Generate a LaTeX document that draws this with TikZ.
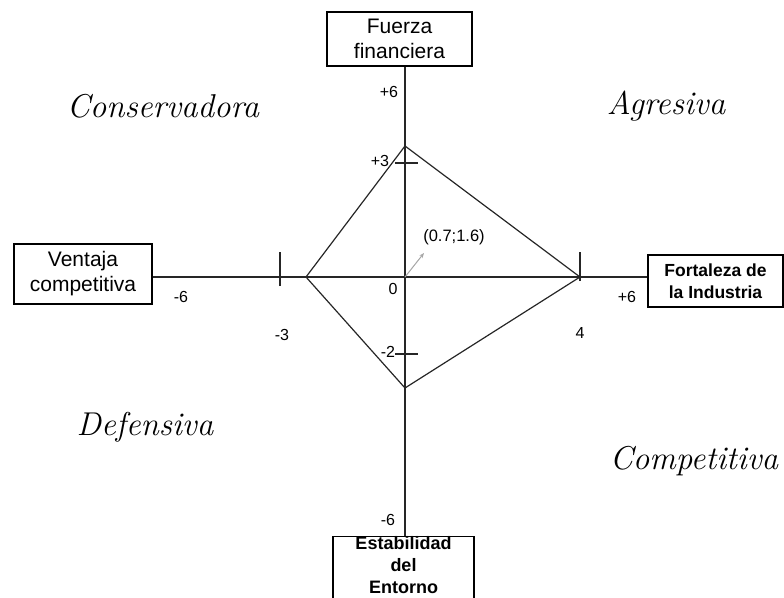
\documentclass[tikz,border=0pt]{standalone}
\usepackage{fontspec}
\newfontfamily\arial{Liberation Sans}
\usetikzlibrary{arrows.meta}
\begin{document}
\begin{tikzpicture}[x=1pt,y=-1pt,
  axis/.style={line width=1.2pt,black!85},
  labelbox/.style={draw,line width=1.1pt,align=center,inner sep=0pt,font=\arial\fontsize{21}{25}\selectfont},
  smallbox/.style={draw,line width=1.1pt,align=center,inner sep=0pt,font=\arial\bfseries\fontsize{17.5}{22}\selectfont},
  num/.style={font=\arial\fontsize{16}{18}\selectfont,inner sep=0pt},
  quad/.style={font=\itshape\fontsize{33}{38}\selectfont,inner sep=0pt}]
\useasboundingbox (0,0) rectangle (784,597);
% axis name boxes
\node[labelbox,minimum width=145pt,minimum height=54pt] (top) at (399.5,39) {Fuerza\\financiera};
\node[labelbox,minimum width=138pt,minimum height=60pt] (left) at (83,274) {Ventaja\\competitiva};
\node[smallbox,minimum width=135pt,minimum height=52pt] (right) at (715.5,281) {Fortaleza de\\la Industria};
\node[draw,line width=1.1pt,minimum width=141pt,minimum height=70pt,anchor=north,inner sep=0pt] (bottom) at (403.5,536) {};
\node[align=center,inner sep=0pt,font=\arial\bfseries\fontsize{18}{22}\selectfont] (bottomtext) at (403.5,565) {Estabilidad\\del\\Entorno};
% axes
\coordinate (o) at (405,277);
\draw[axis] (top.south -| o) -- (bottom.north -| o);
\draw[axis] (left.east |- o) -- (right.west |- o);
% ticks
\coordinate (t3) at (405,163);
\coordinate (tm2) at (405,354);
\coordinate (tm3) at (280,277);
\coordinate (t4) at (580,277);
\draw[axis] ([xshift=-10pt]t3) -- ([xshift=13pt]t3);
\draw[axis] ([xshift=-10pt]tm2) -- ([xshift=13pt]tm2);
\draw[axis] ([yshift=-9pt]tm3) -- ([yshift=25pt]tm3);
\draw[axis] ([yshift=-4pt]t4) -- ([yshift=25pt]t4);
% strategic position polygon
\coordinate (pt) at (405,146);
\coordinate (pr) at (580,277);
\coordinate (pb) at (405,388);
\coordinate (pl) at (306,277);
\draw[axis,line join=miter] (pt) -- (pr) -- (pb) -- (pl) -- cycle;
% resulting vector
\coordinate (v) at (424,253);
\draw[gray!70,line width=1pt,-{Stealth[length=5pt,width=4pt]}] (o) -- (v);
\node[num,font=\arial\fontsize{16.5}{19}\selectfont] (vl) at (454,237) {(0.7;1.6)};
% scale labels
\node[num] (n6t) at (389,92) {+6};
\node[num] (n3t) at (380,161) {+3};
\node[num] (n0) at (393,289) {0};
\node[num] (nm2) at (388,352) {-2};
\node[num] (nm6b) at (388,520) {-6};
\node[num] (nm6l) at (181,297) {-6};
\node[num] (nm3) at (282,335) {-3};
\node[num] (n4) at (580,333) {4};
\node[num] (n6r) at (627,297) {+6};
% quadrant names
\node[quad] (q1) at (163,106) {Conservadora};
\node[quad] (q2) at (666,106) {Agresiva};
\node[quad] (q3) at (145,427) {Defensiva};
\node[quad] (q4) at (694,461) {Competitiva};
\end{tikzpicture}
\end{document}
